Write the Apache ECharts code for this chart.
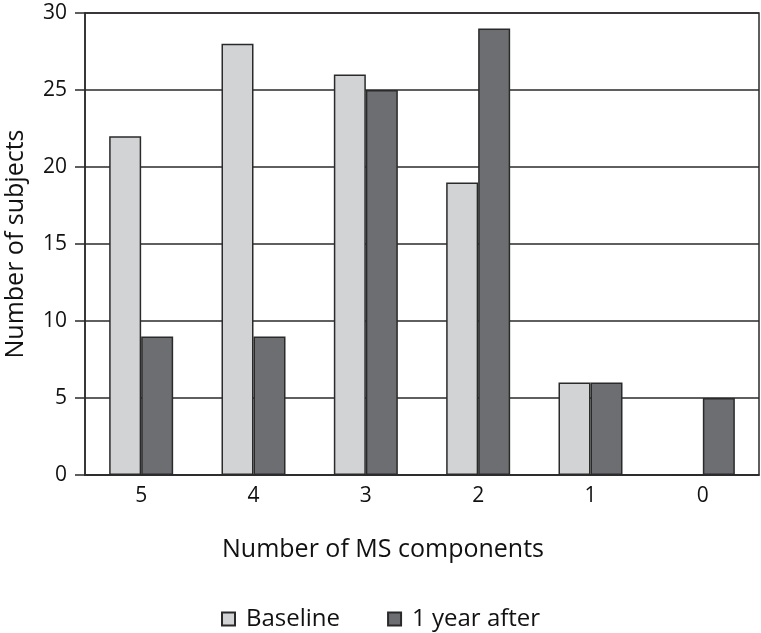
<!DOCTYPE html>
<html>
<head>
<meta charset="utf-8">
<script src="https://cdn.jsdelivr.net/npm/echarts@6/dist/echarts.min.js"></script>
<style>
  html, body { margin: 0; padding: 0; background: #fff; }
  #chart { width: 761px; height: 633px; }
</style>
</head>
<body>
<div id="chart"></div>
<script>
const categories = ['5', '4', '3', '2', '1', '0'];
const baseline = [22, 28, 26, 19, 6, 0];
const yearAfter = [9, 9, 25, 29, 6, 5];
const seriesNames = ['Baseline', '1 year after'];

const font = 'Open Sans';
const lineColor = '#2b2a2b';
const textColor = '#111111';

const chart = echarts.init(document.getElementById('chart'));
chart.setOption({
  animation: false,
  textStyle: { fontFamily: font, color: textColor },
  grid: {
    left: 85, right: 2, top: 13, bottom: 158,
    outerBoundsMode: 'none',
    show: true, borderColor: lineColor, borderWidth: 1.5,
  },
  legend: {
    left: 216, top: 602,
    icon: 'rect', itemWidth: 13, itemHeight: 13, itemGap: 47,
    textStyle: { fontFamily: font, fontSize: 24, color: textColor, padding: [0, 0, 0, 6] },
    data: seriesNames,
  },
  xAxis: {
    type: 'category',
    data: categories,
    name: 'Number of MS components',
    nameLocation: 'middle',
    nameGap: 62,
    nameTextStyle: { fontFamily: font, fontSize: 25, color: textColor, padding: [0, 78, 0, 0] },
    axisLine: { lineStyle: { color: lineColor, width: 1.5 } },
    axisTick: { show: false },
    axisLabel: { fontSize: 21, color: textColor, margin: 11 },
  },
  yAxis: {
    type: 'value',
    min: 0, max: 30, interval: 5,
    name: 'Number of subjects',
    nameLocation: 'middle',
    nameGap: 57,
    nameTextStyle: { fontFamily: font, fontSize: 25, color: textColor },
    axisLine: { show: true, lineStyle: { color: lineColor, width: 1.5 } },
    axisTick: { show: true, length: 10, lineStyle: { color: lineColor, width: 1.5 } },
    axisLabel: { fontSize: 21, color: textColor, margin: 18 },
    splitLine: { lineStyle: { color: lineColor, width: 1.5 } },
  },
  series: [
    {
      name: seriesNames[0], type: 'bar', data: baseline,
      barWidth: 32, barGap: '0%',
      itemStyle: { color: '#d2d3d5', borderColor: lineColor, borderWidth: 1.5 },
    },
    {
      name: seriesNames[1], type: 'bar', data: yearAfter,
      barWidth: 32,
      itemStyle: { color: '#6d6e71', borderColor: lineColor, borderWidth: 1.5 },
    },
  ],
});
</script>
</body>
</html>
